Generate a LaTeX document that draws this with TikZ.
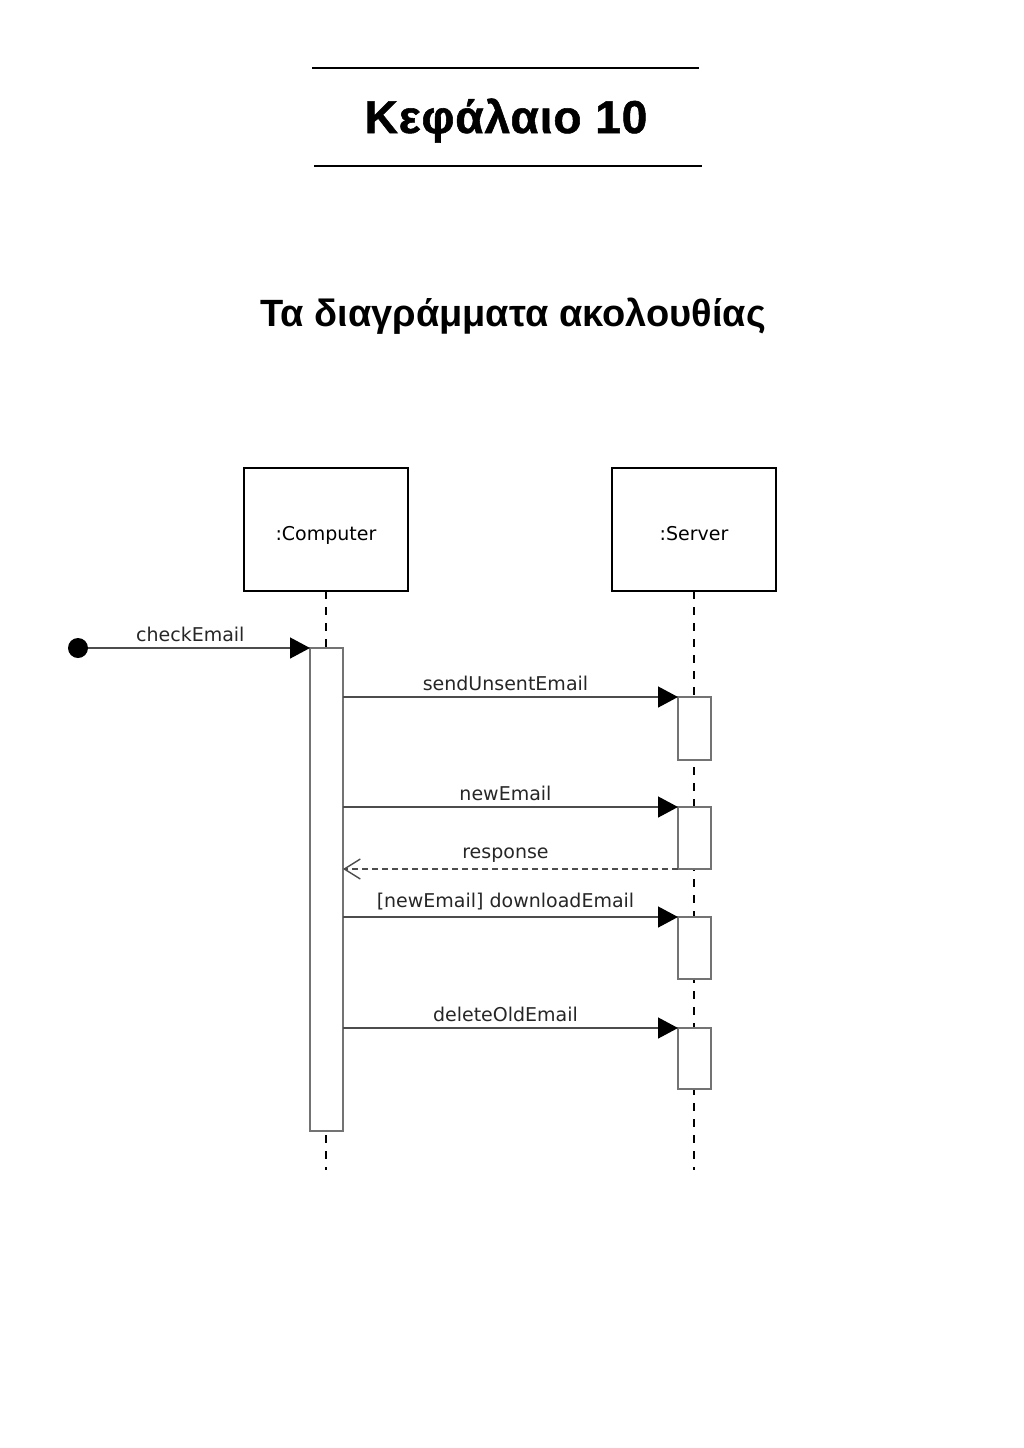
\documentclass[tikz,border=0pt]{standalone}
\usepackage{fontspec}
\setmainfont{Liberation Sans}
\newfontfamily\umlfont{DejaVu Sans}
\newfontfamily\chapfont[FakeBold=1.2, LetterSpace=2]{Liberation Sans Bold}
\usetikzlibrary{arrows.meta}

\begin{document}
\begin{tikzpicture}
[x=0.5pt, y=-0.5pt,
 titlerule/.style={line width=0.7pt},
 lifebox/.style={draw, line width=0.9pt, minimum width=82pt, minimum height=61.5pt, outer sep=0, text height=11pt, text depth=0pt, font=\umlfont\fontsize{9.5}{11}\selectfont},
 actbar/.style={draw=black!55, fill=white, line width=0.7pt, minimum width=16.5pt, inner sep=0, outer sep=0},
 lifeline/.style={dash pattern=on 4pt off 4pt, line width=0.8pt},
 msg/.style={-{Triangle[length=10pt, width=10.5pt, color=black]}, black!70, line width=0.7pt},
 reply/.style={-{Straight Barb[length=8pt, width=10pt]}, black!70, dash pattern=on 3pt off 2pt, line width=0.7pt},
 lbl/.style={font=\umlfont\fontsize{9.5}{11}\selectfont, text=black!85, above, inner sep=3pt, pos=0.485}]
\useasboundingbox (0,0) rectangle (1024,1448);
% heading
\draw [titlerule] (312,68) -- (699,68);
\draw [titlerule] (314,166) -- (702,166);
\node (chap) [anchor=base, font=\chapfont\fontsize{23}{27}\selectfont] at (506,133) {Κεφάλαιο 10};
\node (sub) [anchor=base, font=\bfseries\fontsize{19}{23}\selectfont] at (513,326) {Τα διαγράμματα ακολουθίας};
% objects and lifelines
\node (comp) [lifebox] at (326,529.5) {:Computer};
\node (srv) [lifebox] at (694,529.5) {:Server};
\coordinate (compend) at (326,1170);
\coordinate (srvend) at (694,1170);
\draw [lifeline] (comp.south) -- (compend);
\draw [lifeline] (srv.south) -- (srvend);
% activations
\node (act0) [actbar, minimum height=241.5pt] at (326.5,889.5) {};
\node (act1) [actbar, minimum height=31.5pt] at (694.5,728.5) {};
\node (act2) [actbar, minimum height=31pt] at (694.5,838) {};
\node (act3) [actbar, minimum height=31pt] at (694.5,948) {};
\node (act4) [actbar, minimum height=30.5pt] at (694.5,1058.5) {};
% messages
\node (start) [circle, fill, inner sep=0, minimum size=10pt] at (78,648) {};
\path (start) edge [msg] node [lbl, pos=0.46] {checkEmail} (act0.north west);
\path (act0.east |- act1.north) edge [msg] node [lbl] {sendUnsentEmail} (act1.north west);
\path (act0.east |- act2.north) edge [msg] node [lbl] {newEmail} (act2.north west);
\path (act2.south west) edge [reply] node [lbl, pos=0.515] {response} (act0.east |- act2.south);
\path (act0.east |- act3.north) edge [msg] node [lbl] {[newEmail] downloadEmail} (act3.north west);
\path (act0.east |- act4.north) edge [msg] node [lbl] {deleteOldEmail} (act4.north west);
\end{tikzpicture}
\end{document}
